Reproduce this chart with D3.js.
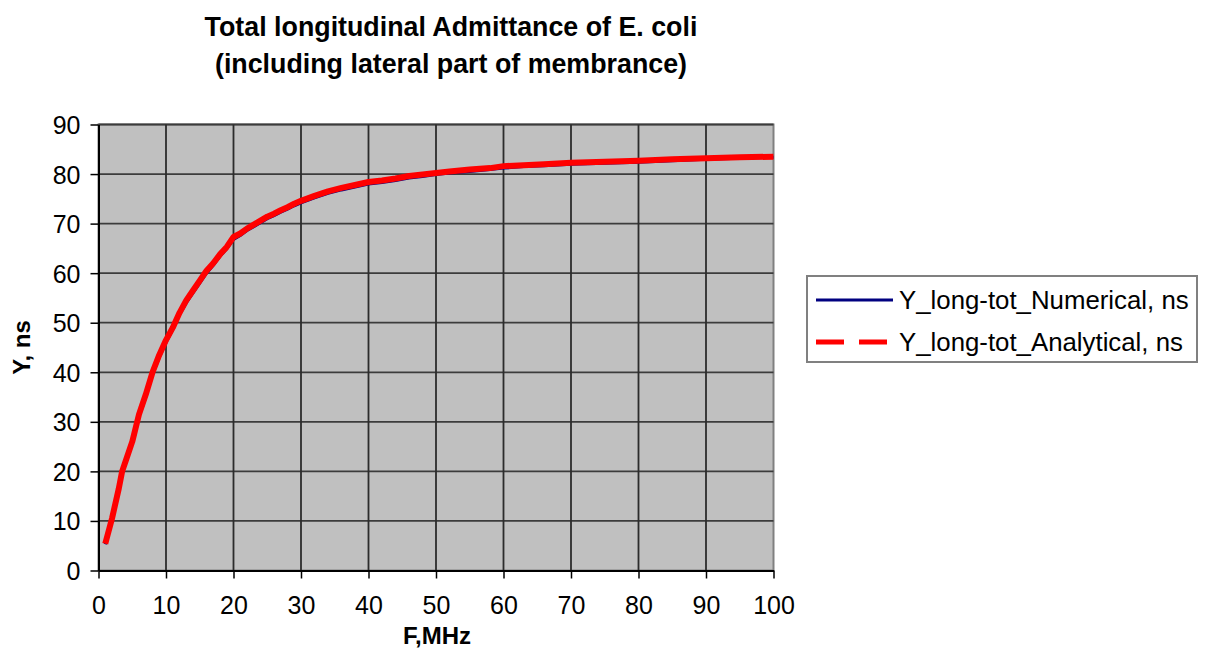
<!DOCTYPE html>
<html>
<head>
<meta charset="utf-8">
<script src="https://cdn.jsdelivr.net/npm/d3@7"></script>
<style>
    body { margin: 0; background: #fff; }
    svg text { font-family: "Liberation Sans", Arial, sans-serif; fill: #000; }
</style>
</head>
<body>
<div id="chart"></div>
<script>
// Frequency, MHz
const freq = [1, 2, 3, 3.5, 4, 5, 6, 7, 8, 9, 10, 11, 12, 13, 14, 15, 16, 17, 18, 19,
    20, 21, 22, 23, 24, 25, 26, 27, 28, 29, 30, 32, 34, 36, 38, 40, 42, 44, 46, 48,
    50, 52, 55, 58, 60, 63, 66, 70, 75, 80, 85, 90, 95, 100];

// Y_long-tot, ns
const yAnalytical = [5.4, 10.5, 16.5, 20, 22, 26, 31.5, 35.5, 40, 43.5, 46.5, 49, 52, 54.5, 56.5, 58.5, 60.5, 62, 63.8, 65.3,
    67.3, 68, 69, 69.8, 70.6, 71.4, 72, 72.7, 73.3, 74, 74.6, 75.6, 76.5, 77.2, 77.8, 78.4, 78.7, 79.1, 79.6, 79.9,
    80.2, 80.5, 80.9, 81.2, 81.6, 81.8, 82, 82.3, 82.5, 82.7, 83, 83.2, 83.4, 83.5];
const yNumerical = [5.3, 10.2, 16, 19.6, 21.6, 25.6, 31, 35, 39.5, 43, 46, 48.6, 51.6, 54, 56, 58, 60, 61.6, 63.4, 64.9,
    66.8, 67.6, 68.6, 69.4, 70.2, 71, 71.6, 72.3, 72.9, 73.6, 74.2, 75.2, 76.1, 76.8, 77.4, 78, 78.3, 78.7, 79.2, 79.5,
    79.9, 80.2, 80.5, 80.9, 81.2, 81.5, 81.7, 82, 82.2, 82.4, 82.7, 83, 83.2, 83.4];

const xTicks = [0, 10, 20, 30, 40, 50, 60, 70, 80, 90, 100];
const yTicks = [0, 10, 20, 30, 40, 50, 60, 70, 80, 90];

const seriesNames = ["Y_long-tot_Numerical, ns", "Y_long-tot_Analytical, ns"];
const seriesColors = ["#000080", "#ff0000"];

const width = 1209;
const height = 653;
const plot = { left: 98.5, top: 124.5, right: 773.5, bottom: 570.5 };

const svg = d3.select("#chart").append("svg")
    .attr("width", width)
    .attr("height", height);

const x = d3.scaleLinear().domain([0, 100]).range([plot.left, plot.right]);
const y = d3.scaleLinear().domain([0, 90]).range([plot.bottom, plot.top]);

// plot area
svg.append("rect")
    .attr("x", plot.left).attr("y", plot.top)
    .attr("width", plot.right - plot.left).attr("height", plot.bottom - plot.top)
    .attr("fill", "#c0c0c0")
    .attr("stroke", "#808080").attr("stroke-width", 2);

// grid
svg.append("g").selectAll("line").data(yTicks.slice(1))
    .enter().append("line")
    .attr("x1", plot.left).attr("x2", plot.right)
    .attr("y1", d => y(d)).attr("y2", d => y(d))
    .attr("stroke", "#3c3c3c").attr("stroke-width", 1.8);
svg.append("g").selectAll("line").data(xTicks.slice(1, -1))
    .enter().append("line")
    .attr("y1", plot.top).attr("y2", plot.bottom)
    .attr("x1", d => x(d)).attr("x2", d => x(d))
    .attr("stroke", "#2c2c2c").attr("stroke-width", 1.8);

// axes
const xAxis = svg.append("g")
    .attr("transform", `translate(0,${plot.bottom})`)
    .call(d3.axisBottom(x).tickValues(xTicks).tickSize(8).tickPadding(12).tickSizeOuter(0));
const yAxis = svg.append("g")
    .attr("transform", `translate(${plot.left},0)`)
    .call(d3.axisLeft(y).tickValues(yTicks).tickSize(8).tickPadding(10).tickSizeOuter(0));

[xAxis, yAxis].forEach(ax => {
    ax.select(".domain").attr("stroke", "#000").attr("stroke-width", 2);
    ax.selectAll(".tick line").attr("stroke", "#000").attr("stroke-width", 1.5);
    ax.selectAll(".tick text")
        .style("font-family", "'Liberation Sans', Arial, sans-serif")
        .style("font-size", "25px")
        .attr("fill", "#000");
});
xAxis.selectAll(".tick text").attr("dy", "0.95em");
yAxis.selectAll(".tick text").attr("dy", "0.36em");

// series
const line = d3.line()
    .x(d => x(d[0]))
    .y(d => y(d[1]));

svg.append("path")
    .datum(freq.map((f, i) => [f, yNumerical[i]]))
    .attr("d", line)
    .attr("fill", "none")
    .attr("stroke", seriesColors[0])
    .attr("stroke-width", 3);

svg.append("path")
    .datum(freq.map((f, i) => [f, yAnalytical[i]]))
    .attr("d", line)
    .attr("fill", "none")
    .attr("stroke", seriesColors[1])
    .attr("stroke-width", 6)
    .attr("stroke-linejoin", "round");

// titles
const title = svg.append("text")
    .attr("text-anchor", "middle")
    .style("font-size", "26.8px")
    .style("font-weight", "bold");
title.append("tspan").attr("x", 451).attr("y", 36).text("Total longitudinal Admittance of E. coli");
title.append("tspan").attr("x", 451).attr("y", 73).text("(including lateral part of membrance)");

svg.append("text")
    .attr("x", 437).attr("y", 644)
    .attr("text-anchor", "middle")
    .style("font-size", "24px")
    .style("font-weight", "bold")
    .text("F,MHz");

svg.append("text")
    .attr("transform", `translate(30,${(plot.top + plot.bottom) / 2}) rotate(-90)`)
    .attr("text-anchor", "middle")
    .style("font-size", "24px")
    .style("font-weight", "bold")
    .text("Y, ns");

// legend
const legend = svg.append("g");
legend.append("rect")
    .attr("x", 807).attr("y", 276)
    .attr("width", 390).attr("height", 86)
    .attr("fill", "#fff")
    .attr("stroke", "#808080").attr("stroke-width", 2);

const legendRows = [300, 342];
seriesNames.forEach((name, i) => {
    legend.append("line")
        .attr("x1", 816).attr("x2", 893)
        .attr("y1", legendRows[i]).attr("y2", legendRows[i])
        .attr("stroke", seriesColors[i])
        .attr("stroke-width", i === 0 ? 3 : 5)
        .attr("stroke-dasharray", i === 0 ? null : "28,15");
    legend.append("text")
        .attr("x", 899).attr("y", legendRows[i] + 9)
        .style("font-size", "25.8px")
        .text(name);
});
</script>
</body>
</html>
